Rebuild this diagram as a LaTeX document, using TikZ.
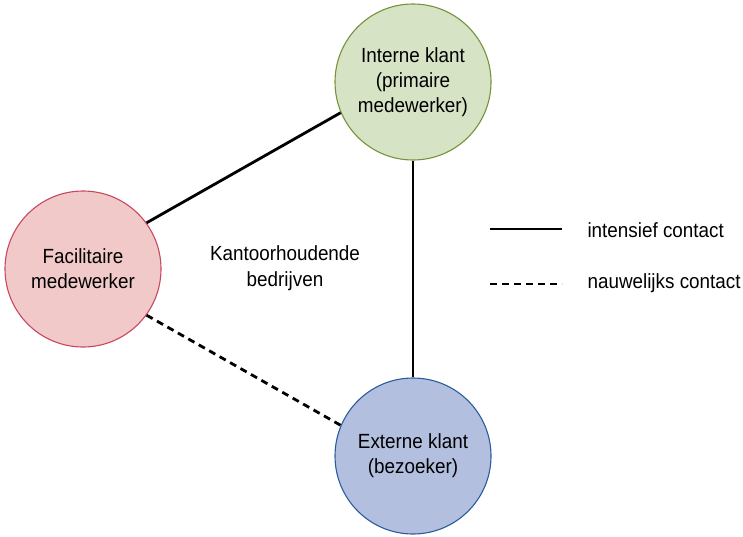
\documentclass[tikz,border=0pt]{standalone}
\usepackage{fontspec}
\setmainfont{Liberation Sans}[FakeStretch=0.92]
\begin{document}
\begin{tikzpicture}[x=1pt,y=-1pt,
  party/.style={circle,draw,line width=1.1pt,minimum size=156pt,inner sep=0pt,align=center,
    font=\fontsize{20.5}{25}\selectfont},
  link/.style={line width=2.8pt,black},
  loose/.style={link,dash pattern=on 7pt off 5pt},
  caption/.style={font=\fontsize{20.5}{26}\selectfont,align=center}]
\definecolor{greenfill}{HTML}{D7E3C5}
\definecolor{greenline}{HTML}{76923C}
\definecolor{redfill}{HTML}{F2C9C9}
\definecolor{redline}{HTML}{C8485E}
\definecolor{bluefill}{HTML}{B3BFDF}
\definecolor{blueline}{HTML}{2B5C9C}
\useasboundingbox (0,0) rectangle (743,536);

\node[party,fill=greenfill,draw=greenline] (intern) at (413,82) {Interne klant\\(primaire\\medewerker)};
\node[party,fill=redfill,draw=redline] (facil) at (83,269) {Facilitaire\\medewerker};
\node[party,fill=bluefill,draw=blueline] (extern) at (413,456) {Externe klant\\(bezoeker)};

\node[caption] (org) at (285,268) {Kantoorhoudende\\bedrijven};

\draw[link] (facil.36) -- (intern.203);
\draw[link] (intern) -- (extern);
\draw[loose] (facil.-36) -- (extern.157);

% legend
\coordinate (sa) at (490,229);
\coordinate (sb) at (562,229);
\coordinate (da) at (490,284);
\coordinate (db) at (562,284);
\draw[link] (sa) -- (sb);
\draw[loose] (da) -- (db);
\node[caption,anchor=west] (ls) at (584,230) {intensief contact};
\node[caption,anchor=west] (ld) at (584,283) {nauwelijks contact};
\end{tikzpicture}
\end{document}
